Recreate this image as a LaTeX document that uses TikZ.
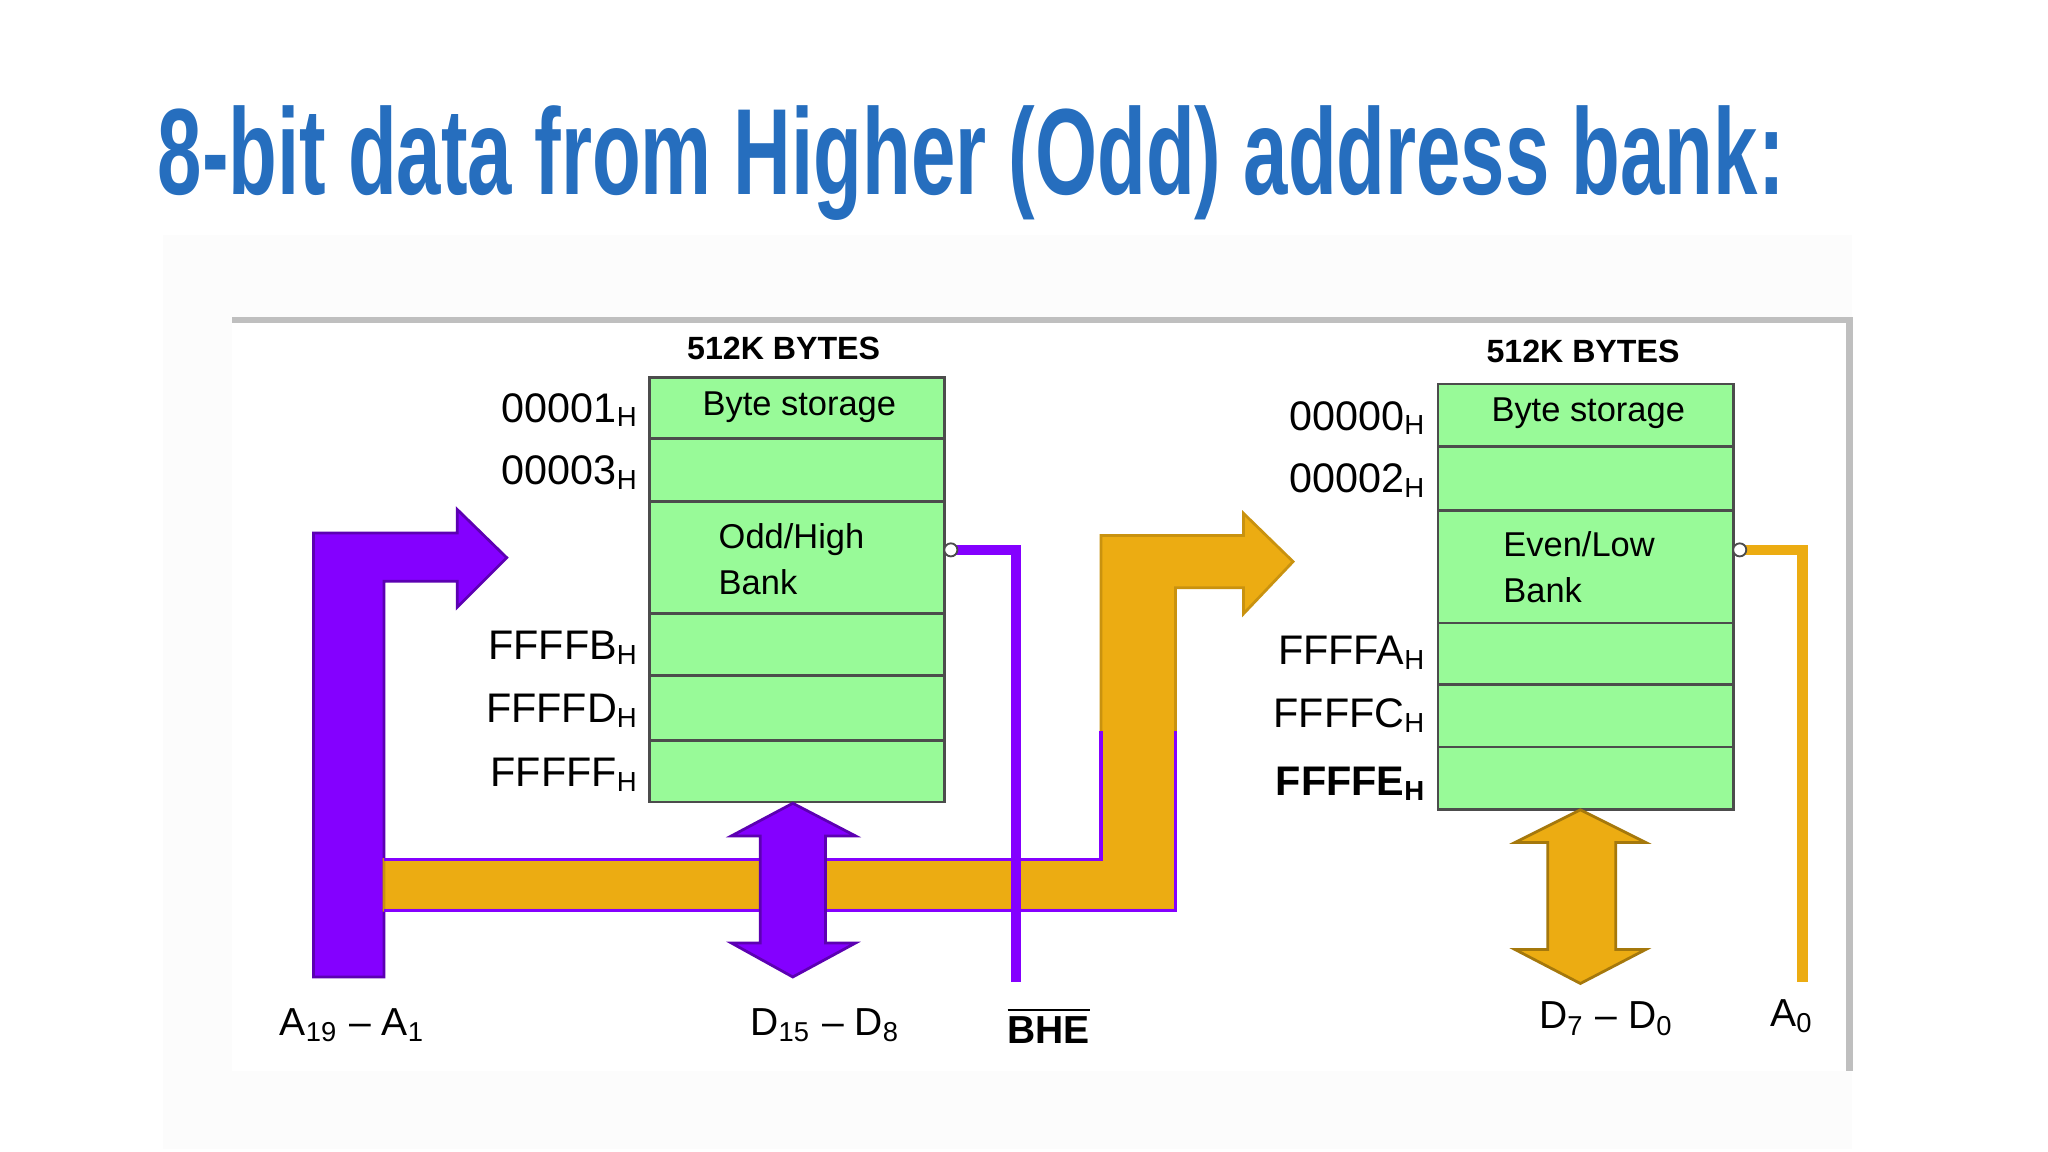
\documentclass[tikz,border=0pt]{standalone}
\usepackage{fontspec}
\setmainfont{Liberation Sans}
\usepackage{graphicx}
\usetikzlibrary{positioning,shapes.arrows}

\definecolor{titleblue}{RGB}{38,110,190}
\definecolor{cellgreen}{RGB}{152,250,152}
\definecolor{buspurple}{RGB}{132,0,255}
\definecolor{busorange}{RGB}{236,172,18}

\tikzset{
  cell/.style={draw=black!70, fill=cellgreen, line width=0.6pt},
  addr/.style={anchor=east, font=\fontsize{9}{11}\selectfont, inner sep=0pt},
  pin/.style={font=\fontsize{8.5}{10}\selectfont, inner sep=0pt},
  head/.style={font=\bfseries\fontsize{7}{8}\selectfont, inner sep=0pt},
  celltxt/.style={font=\fontsize{7.5}{10}\selectfont, align=left, inner sep=0pt},
}

\begin{document}
\begin{tikzpicture}[x=0.01cm, y=-0.01cm]
\useasboundingbox (0,0) rectangle (1568,882);

% Title
\node[anchor=west, inner sep=0pt, text=titleblue] (title) at (120,125)
  {\resizebox{12.45cm}{0.68cm}{\bfseries 8-bit data from Higher (Odd) address bank:}};

% frame of the figure
\fill[black!1] (125,180) rectangle (1418,880);
\fill[white] (178,245) rectangle (1415,820);
\draw[black!25, line width=1.5pt] (178,245) -- (1416,245) -- (1416,820);

% Left (odd) memory
\foreach \t/\b in {289/336, 336/384, 384/470, 470/517, 517/567, 567/614}
  \draw[cell] (497,\t) rectangle (723,\b);
\node[head] (lbytes) at (600,267) {512K BYTES};
\node[celltxt] (lbyte) at (612,312) {Byte storage};
\node[celltxt] (lbank) at (606,428) {Odd/High\\Bank};
\node[addr] (a1) at (490,314) {00001\textsubscript{H}};
\node[addr] (a3) at (490,362) {00003\textsubscript{H}};
\node[addr] (aB) at (490,496) {FFFFB\textsubscript{H}};
\node[addr] (aD) at (490,544) {FFFFD\textsubscript{H}};
\node[addr] (aF) at (490,593) {FFFFF\textsubscript{H}};

% Right (even) memory
\foreach \t/\b in {294/342, 342/391, 391/477, 477/524, 524/572, 572/620}
  \draw[cell] (1101,\t) rectangle (1327,\b);
\node[head] (rbytes) at (1212,269) {512K BYTES};
\node[celltxt] (rbyte) at (1216,316) {Byte storage};
\node[celltxt] (rbank) at (1209,434) {Even/Low\\Bank};
\node[addr] (a0) at (1093,320) {00000\textsubscript{H}};
\node[addr] (a2) at (1093,368) {00002\textsubscript{H}};
\node[addr] (aA) at (1093,500) {FFFFA\textsubscript{H}};
\node[addr] (aC) at (1093,548) {FFFFC\textsubscript{H}};
\node[addr] (aE) at (1093,600) {\bfseries FFFFE\textsubscript{H}};

% Address bus A19-A1
\draw[buspurple!70!black, fill=buspurple, line width=0.6pt]
  (240,748) -- (240,408) -- (350,408) -- (350,390) -- (388,427) -- (350,465)
  -- (350,445) -- (294,445) -- (294,748) -- cycle;
\draw[busorange!85!black, fill=busorange, line width=0.6pt]
  (294,658) -- (843,658) -- (843,410) -- (952,410) -- (952,393) -- (990,430)
  -- (952,470) -- (952,450) -- (900,450) -- (900,697) -- (294,697) -- cycle;
\draw[buspurple, line width=0.8pt] (294,658) -- (843,658) -- (843,560);
\draw[buspurple, line width=0.8pt] (294,697) -- (900,697) -- (900,560);

% Data buses
\draw[buspurple!70!black, fill=buspurple, line width=0.6pt]
  (607,615) -- (655,640) -- (632,640) -- (632,722) -- (655,722) -- (607,748)
  -- (560,722) -- (582,722) -- (582,640) -- (560,640) -- cycle;
\draw[busorange!70!black, fill=busorange, line width=0.6pt]
  (1210,620) -- (1260,645) -- (1237,645) -- (1237,727) -- (1260,727) -- (1210,753)
  -- (1160,727) -- (1185,727) -- (1185,645) -- (1160,645) -- cycle;

% control lines
\coordinate (bhe) at (778,752);
\coordinate (azero) at (1380,752);
\draw[buspurple, line width=2.2pt] (728,421) -| (bhe);
\draw[busorange, line width=2.2pt] (1332,421) -| (azero);
\draw[black!70, fill=white] (728,421) circle (5);
\draw[black!70, fill=white] (1332,421) circle (5);

% pin labels
\node[pin] (la) at (270,785) {A\textsubscript{19} -- A\textsubscript{1}};
\node[pin] (ld) at (632,785) {D\textsubscript{15} -- D\textsubscript{8}};
\node[pin] (lbhe) at (803,785) {\bfseries$\overline{\mbox{BHE}}$};
\node[pin] (le) at (1230,780) {D\textsubscript{7} -- D\textsubscript{0}};
\node[pin] (lz) at (1372,778) {A\textsubscript{0}};
\end{tikzpicture}
\end{document}
